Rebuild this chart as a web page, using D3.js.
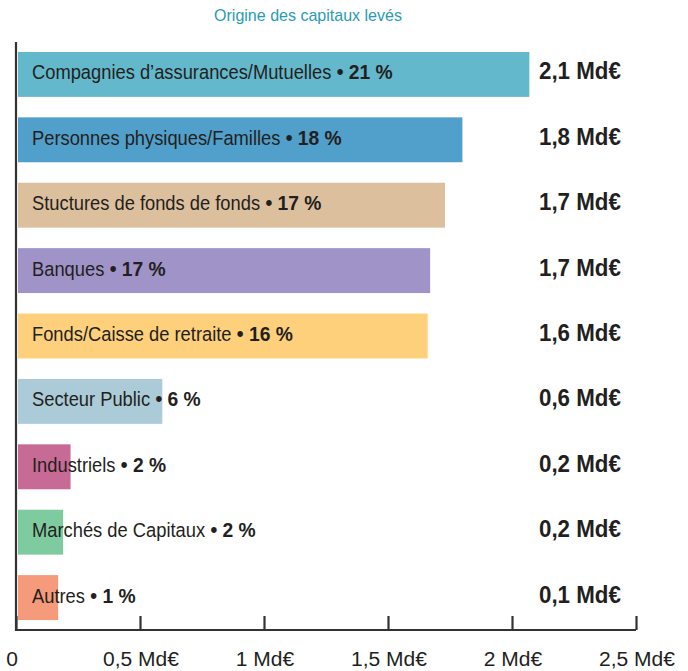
<!DOCTYPE html>
<html>
<head>
<meta charset="utf-8">
<script src="https://cdn.jsdelivr.net/npm/d3@7"></script>
<style>
  body { margin: 0; background: #fff; }
  svg text { font-family: "Liberation Sans", Arial, sans-serif; }
</style>
</head>
<body>
<svg id="chart"></svg>
<script>
// data
const categories = [
  "Compagnies d’assurances/Mutuelles",
  "Personnes physiques/Familles",
  "Stuctures de fonds de fonds",
  "Banques",
  "Fonds/Caisse de retraite",
  "Secteur Public",
  "Industriels",
  "Marchés de Capitaux",
  "Autres"
];
const amounts = [2.07, 1.8, 1.73, 1.67, 1.66, 0.59, 0.22, 0.19, 0.17];
const percents = ["21 %", "18 %", "17 %", "17 %", "16 %", "6 %", "2 %", "2 %", "1 %"];
const amountLabels = ["2,1 Md€", "1,8 Md€", "1,7 Md€", "1,7 Md€", "1,6 Md€", "0,6 Md€", "0,2 Md€", "0,2 Md€", "0,1 Md€"];
const colors = ["#63b8cc", "#519fcb", "#dcc09e", "#a093c8", "#fed07c", "#abcbd9", "#c76a96", "#7ecba0", "#f59a7b"];
const tickValues = [0, 0.5, 1, 1.5, 2, 2.5];
const tickLabels = ["0", "0,5 Md€", "1 Md€", "1,5 Md€", "2 Md€", "2,5 Md€"];

const width = 688, height = 671;
const margin = { top: 42, left: 16, bottom: 41 };
const axisY = height - margin.bottom;
const ink = "#231f20";

const svg = d3.select("#chart").attr("width", width).attr("height", height);

const x = d3.scaleLinear().domain([0, 2.5]).range([margin.left, 636]);
const y = d3.scaleBand().domain(categories).range([41.75, 630.25]).paddingInner(0.313).paddingOuter(0.156);

// condensed look: squeeze text horizontally so a sample matches the reference width
function squeeze(sel, target) {
  const w = sel.node().getComputedTextLength();
  return target / w;
}

// title
const title = svg.append("text")
  .attr("text-anchor", "middle")
  .style("font-size", "17px")
  .style("fill", "#2a9bb5")
  .text("Origine des capitaux levés");
const stTitle = squeeze(title, 188);
title.attr("transform", `translate(308,21) scale(${stTitle},1)`);

// bars
svg.selectAll(".bar")
  .data(categories)
  .enter()
  .append("rect")
  .attr("class", "bar")
  .attr("x", x(0) + 2)
  .attr("y", d => y(d))
  .attr("width", (d, i) => x(amounts[i]) - x(0) - 2)
  .attr("height", y.bandwidth())
  .attr("fill", (d, i) => colors[i]);

// labels in bars
const lab = svg.selectAll(".lab")
  .data(categories)
  .enter()
  .append("text")
  .attr("class", "lab")
  .style("fill", ink);
lab.append("tspan").style("font-size", "19.5px").text(d => d + " ");
lab.append("tspan").style("font-size", "22px").text("•");
lab.append("tspan").style("font-size", "19.5px").text(" ");
lab.append("tspan").style("font-size", "20.5px").style("font-weight", "bold").text((d, i) => percents[i]);
const stLab = squeeze(d3.select(lab.node()), 361);
lab.attr("transform", d => `translate(32,${y(d) + y.bandwidth() / 2 + 5}) scale(${stLab},1)`);

// amount labels
const amt = svg.selectAll(".amt")
  .data(categories)
  .enter()
  .append("text")
  .attr("class", "amt")
  .style("font-size", "23px")
  .style("font-weight", "bold")
  .style("fill", ink)
  .text((d, i) => amountLabels[i]);
const stAmt = squeeze(d3.select(amt.node()), 82);
amt.attr("transform", d => `translate(539,${y(d) + y.bandwidth() / 2 + 5}) scale(${stAmt},1)`);

// axes
const xAxis = svg.append("g")
  .attr("transform", `translate(0,${axisY})`)
  .call(d3.axisTop(x).tickValues(tickValues).tickSize(14).tickFormat(""));
xAxis.select(".domain").attr("d", `M${x(0)},0H${x(2.5)}`).attr("stroke", "#333").attr("stroke-width", 2.2);
xAxis.selectAll(".tick line").attr("stroke", "#333").attr("stroke-width", 2.2);

const tlab = svg.selectAll(".tlab")
  .data(tickValues)
  .enter()
  .append("text")
  .attr("class", "tlab")
  .attr("text-anchor", "middle")
  .style("font-size", "20.5px")
  .style("fill", ink)
  .text((d, i) => tickLabels[i]);
const stTick = squeeze(d3.select(tlab.nodes()[1]), 76);
tlab.attr("transform", (d, i) => `translate(${i === 0 ? x(d) - 4 : x(d) + 1},666) scale(${stTick},1)`);

svg.append("line")
  .attr("x1", x(0)).attr("x2", x(0))
  .attr("y1", margin.top).attr("y2", axisY + 1)
  .attr("stroke", "#333").attr("stroke-width", 2.2);
</script>
</body>
</html>
